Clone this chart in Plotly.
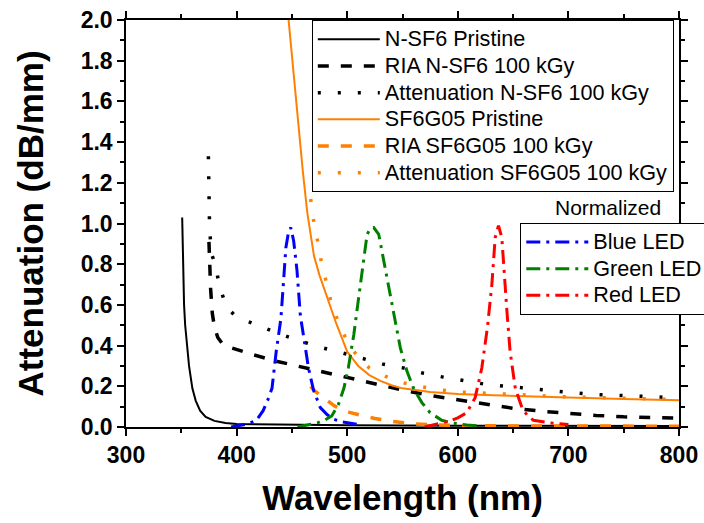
import plotly.graph_objects as go

# ---------------- data ----------------
nsf6_pristine_wl = [350.8, 351.2, 351.8, 352.5, 353.5, 355, 357, 360, 363, 367, 372, 380, 390, 400, 450, 500, 600, 700, 800]
nsf6_pristine_att = [1.03, 0.88, 0.72, 0.60, 0.50, 0.41, 0.30, 0.19, 0.13, 0.08, 0.05, 0.03, 0.02, 0.015, 0.01, 0.008, 0.006, 0.005, 0.005]

nsf6_ria_wl = [375, 375.5, 376.5, 378, 380, 383, 387, 392, 400, 415, 437, 458, 479, 503, 527, 551, 575, 600, 625, 650, 675, 700, 725, 750, 775, 800]
nsf6_ria_att = [0.91, 0.80, 0.68, 0.56, 0.49, 0.44, 0.41, 0.395, 0.38, 0.355, 0.322, 0.296, 0.27, 0.242, 0.21, 0.18, 0.155, 0.133, 0.11, 0.092, 0.078, 0.066, 0.057, 0.05, 0.046, 0.043]

nsf6_att_wl = [374.5, 375, 375.5, 376.5, 378, 381, 384.5, 391, 398, 405, 423, 440, 459, 477, 495, 513, 533, 551, 569, 587, 606, 625, 644, 664, 683, 701, 721, 739, 757, 775, 795, 800]
nsf6_att_att = [1.33, 1.15, 1.0, 0.9, 0.84, 0.795, 0.69, 0.59, 0.55, 0.53, 0.49, 0.455, 0.42, 0.39, 0.365, 0.337, 0.308, 0.29, 0.264, 0.245, 0.228, 0.21, 0.2, 0.19, 0.177, 0.169, 0.16, 0.157, 0.152, 0.149, 0.144, 0.143]

sf6g05_pristine_wl = [447, 450, 455, 460, 464, 467, 470, 475, 480, 485, 490, 495, 500, 505, 510, 520, 530, 540, 550, 575, 600, 625, 650, 700, 750, 800]
sf6g05_pristine_att = [2.0, 1.82, 1.52, 1.25, 1.05, 0.95, 0.84, 0.745, 0.665, 0.59, 0.51, 0.44, 0.37, 0.335, 0.30, 0.255, 0.227, 0.205, 0.19, 0.172, 0.162, 0.157, 0.152, 0.145, 0.138, 0.132]

sf6g05_ria_wl = [467, 470, 476, 482, 488, 495, 502, 512, 525, 540, 560, 580, 600, 650, 700, 750, 800]
sf6g05_ria_att = [0.20, 0.18, 0.155, 0.13, 0.105, 0.085, 0.072, 0.058, 0.042, 0.028, 0.016, 0.01, 0.007, 0.005, 0.004, 0.004, 0.004]

sf6g05_att_wl = [467, 470, 473.6, 477, 481.7, 486, 494, 502, 512, 520, 530, 545, 560, 580, 600, 650, 700, 750, 800]
sf6g05_att_att = [1.12, 1.0, 0.905, 0.80, 0.70, 0.60, 0.49, 0.40, 0.33, 0.29, 0.26, 0.225, 0.205, 0.185, 0.172, 0.158, 0.148, 0.141, 0.135]

blue_wl = [395, 405, 410, 418, 424, 428, 432, 436, 440, 442.5, 444.5, 447, 449, 451.6, 454.6, 457.6, 460.6, 465, 469.6, 475.7, 482, 488, 495, 503, 510]
blue_led = [0.0, 0.01, 0.015, 0.033, 0.08, 0.13, 0.19, 0.38, 0.53, 0.72, 0.88, 0.96, 0.98, 0.914, 0.77, 0.55, 0.44, 0.29, 0.18, 0.095, 0.06, 0.038, 0.025, 0.02, 0.012]

green_wl = [455, 465, 473, 480, 486, 492, 497, 501, 506, 509.5, 513.5, 518, 521, 524, 528.5, 533, 539, 543.5, 548, 554, 560, 567.5, 575, 585.5, 595, 608, 620]
green_led = [0.0, 0.01, 0.02, 0.035, 0.054, 0.11, 0.19, 0.29, 0.455, 0.60, 0.77, 0.947, 0.975, 0.98, 0.947, 0.816, 0.65, 0.52, 0.39, 0.275, 0.19, 0.12, 0.07, 0.033, 0.02, 0.01, 0.005]

red_wl = [570, 578, 593, 600, 608, 615.7, 621.7, 626.8, 630.8, 633.8, 636.8, 639.8, 642, 644.4, 647.3, 652, 658, 663, 668.4, 676, 683.5, 700]
red_led = [0.0, 0.01, 0.03, 0.045, 0.07, 0.144, 0.29, 0.49, 0.70, 0.93, 0.99, 0.93, 0.78, 0.57, 0.37, 0.19, 0.095, 0.055, 0.033, 0.025, 0.02, 0.012]

x_ticks = [300, 400, 500, 600, 700, 800]
y_ticks = [0.0, 0.2, 0.4, 0.6, 0.8, 1.0, 1.2, 1.4, 1.6, 1.8, 2.0]

# ---------------- styling ----------------
ORANGE = "#ff8000"
DASH = "11px,12px"
DOT = "3px,17px"
DASHDOT = "14px,6px,3px,6px"
LEG_TXT = 21.6  # rendered legend text size

fig = go.Figure()

def add(x, y, name, color, width, dash, legend):
    fig.add_trace(go.Scatter(
        x=x, y=y, mode="lines",
        name=f'<span style="font-size:{LEG_TXT}px">{name}</span>',
        line=dict(color=color, width=width, dash=dash),
        legend=legend))

add(nsf6_pristine_wl, nsf6_pristine_att, "N-SF6 Pristine", "black", 2, "solid", "legend")
add(nsf6_ria_wl, nsf6_ria_att, "RIA N-SF6 100 kGy", "black", 3.5, DASH, "legend")
add(nsf6_att_wl, nsf6_att_att, "Attenuation N-SF6 100 kGy", "black", 3.5, DOT, "legend")
add(sf6g05_pristine_wl, sf6g05_pristine_att, "SF6G05 Pristine", ORANGE, 2, "solid", "legend")
add(sf6g05_ria_wl, sf6g05_ria_att, "RIA SF6G05 100 kGy", ORANGE, 3.5, DASH, "legend")
add(sf6g05_att_wl, sf6g05_att_att, "Attenuation SF6G05 100 kGy", ORANGE, 3.5, DOT, "legend")
add(blue_wl, blue_led, "Blue LED", "#0000ff", 3, DASHDOT, "legend2")
add(green_wl, green_led, "Green LED", "#008000", 3, DASHDOT, "legend2")
add(red_wl, red_led, "Red LED", "#ff0000", 3, DASHDOT, "legend2")

FONT = "Liberation Sans, Arial, sans-serif"

axis_common = dict(
    showline=True, linecolor="black", linewidth=1.5, mirror="allticks",
    ticks="outside", ticklen=7, tickwidth=1.5, tickcolor="black",
    showgrid=False, zeroline=False,
    tickfont=dict(family=FONT, size=23, color="black", weight="bold"),
    title_font=dict(family=FONT, size=35, color="black", weight="bold"),
)

fig.update_layout(
    width=704, height=523,
    margin=dict(l=126, r=25, t=20, b=96, autoexpand=False),
    paper_bgcolor="white", plot_bgcolor="white",
    font=dict(family=FONT, color="black"),
    xaxis=dict(range=[300, 800], tickvals=x_ticks, ticktext=[str(v) for v in x_ticks],
               minor=dict(dtick=50, ticks="outside", ticklen=4, tickwidth=1.5, tickcolor="black"),
               title=dict(text="Wavelength (nm)", standoff=18), **axis_common),
    yaxis=dict(range=[0, 2.0], tickvals=y_ticks, ticktext=[f"{v:.1f}" for v in y_ticks],
               minor=dict(dtick=0.1, ticks="outside", ticklen=4, tickwidth=1.5, tickcolor="black"),
               title=dict(text="Attenuation (dB/mm)", standoff=26), **axis_common),
    legend=dict(x=0.336, y=1.0, xanchor="left", yanchor="top",
                bgcolor="white", bordercolor="black", borderwidth=1,
                font=dict(family=FONT, size=18.2, color="black"), itemwidth=62,
                tracegroupgap=0),
    legend2=dict(x=0.713, y=0.502, xanchor="left", yanchor="top",
                 bgcolor="white", bordercolor="black", borderwidth=1,
                 font=dict(family=FONT, size=18.2, color="black"), itemwidth=62),
    annotations=[dict(text="Normalized", x=0.871, y=0.5405, xref="paper", yref="paper",
                      xanchor="center", yanchor="middle",
                      showarrow=False, font=dict(family=FONT, size=21, color="black"))],
    showlegend=True,
)

fig.write_html(
    "out.html",
    config={"displayModeBar": False},
    post_script="document.body.style.margin='0px';document.body.style.padding='0px';"
                "document.documentElement.style.overflow='hidden';",
)
